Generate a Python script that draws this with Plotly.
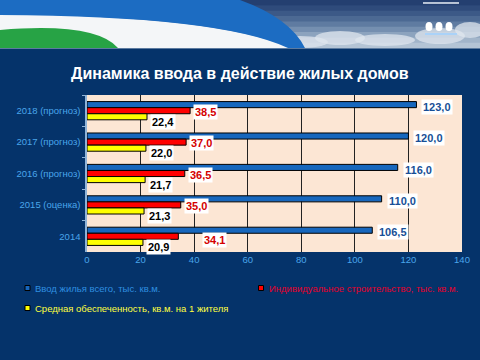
import plotly.graph_objects as go

# ---------------- data ----------------
categories = ["2018 (прогноз)", "2017 (прогноз)", "2016 (прогноз)", "2015 (оценка)", "2014"]
total_housing = [123.0, 120.0, 116.0, 110.0, 106.5]      # Ввод жилья всего, тыс. кв.м.
individual = [38.5, 37.0, 36.5, 35.0, 34.1]              # Индивидуальное строительство, тыс. кв.м.
avg_provision = [22.4, 22.0, 21.7, 21.3, 20.9]           # Средная обеспеченность, кв.м. на 1 жителя
series_names = ["Ввод жилья всего, тыс. кв.м.",
                "Индивидуальное строительство, тыс. кв.м.",
                "Средная обеспеченность, кв.м. на 1 жителя"]
x_ticks = [0, 20, 40, 60, 80, 100, 120, 140]
title_text = "Динамика ввода в действие жилых домов"

# ---------------- style ----------------
W, H = 480, 360
ML, MR, MT, MB = 87, 18, 95, 108
NAVY = "#05336a"
PLOT_BG = "#fce6d4"
TICK_COLOR = "#4aa6ea"
BAR_COLORS = ["#1767bd", "#ff0000", "#ffff00"]
LABEL_COLORS = ["#174f96", "#d40000", "#000000"]
LABEL_YSHIFT = [4, -1, -11]
LABEL_XSHIFT = [5, 3, 3]
FONT = "Liberation Sans, Arial, sans-serif"


def fmt(v):
    return f"{v:.1f}".replace(".", ",")


def px(x):
    return (x - ML) / (W - ML - MR)


def py(y):
    return (H - MB - y) / (H - MT - MB)


fig = go.Figure()
for name, vals, col in zip(series_names, [total_housing, individual, avg_provision], BAR_COLORS):
    fig.add_trace(go.Bar(
        y=categories, x=vals, name=name, orientation="h",
        marker=dict(color=col, line=dict(color="#000000", width=1)),
        showlegend=False, hoverinfo="x+y",
    ))

annotations = []
# data labels (y given as category index on the category axis)
for si, vals in enumerate([total_housing, individual, avg_provision]):
    for ci, (cat, v) in enumerate(zip(categories, vals)):
        xs, ys = LABEL_XSHIFT[si], LABEL_YSHIFT[si]
        if si == 1 and cat == "2014":
            xs, ys = 24, -4
        annotations.append(dict(
            x=v, y=ci, xref="x", yref="y", text=f"<b>{fmt(v)}</b>",
            showarrow=False, xanchor="left", yanchor="middle",
            xshift=xs, yshift=ys, bgcolor="#ffffff", borderpad=1,
            font=dict(family=FONT, size=11, color=LABEL_COLORS[si]),
        ))

# title
annotations.append(dict(
    x=px(240), y=py(73), xref="paper", yref="paper", text=f"<b>{title_text}</b>",
    showarrow=False, xanchor="center", yanchor="middle",
    font=dict(family=FONT, size=16, color="#ffffff"),
))

# legend (custom)
legend_pos = [(27.5, 288), (261, 288), (27.5, 308)]
legend_text_colors = ["#2f8fe0", "#e4002b", "#ffff40"]
shapes = []

# ---- banner: sky gradient ----
sky = ["#243f70", "#2f4b7b", "#3c5987", "#4c6993", "#5f7ba1", "#758fb0", "#8ca3be", "#a2b5ca", "#b4c4d5"]
band_h = 48 / len(sky)
for i, c in enumerate(sky):
    shapes.append(dict(type="rect", xref="paper", yref="paper", layer="below",
                       x0=px(0), x1=px(480), y0=py(i * band_h), y1=py((i + 1) * band_h + 0.5),
                       fillcolor=c, line=dict(width=0)))
# clouds
for cx, cy, rx, ry in [(300, 42, 28, 6), (340, 38, 25, 7), (385, 40, 30, 6), (440, 36, 25, 8), (470, 30, 15, 8)]:
    shapes.append(dict(type="circle", xref="paper", yref="paper", layer="below",
                       x0=px(cx - rx), x1=px(cx + rx), y0=py(cy - ry), y1=py(cy + ry),
                       fillcolor="#dfe6ee", opacity=0.75, line=dict(width=0)))


def path(points):
    out = []
    for cmd, pts in points:
        coords = " ".join(f"{px(a):.5f},{py(b):.5f}" for a, b in pts)
        out.append(f"{cmd} {coords}")
    return " ".join(out) + " Z"


# white band
shapes.append(dict(type="path", xref="paper", yref="paper", layer="below",
                   path=path([("M", [(0, 14)]), ("Q", [(220, 16), (290, 48)]), ("L", [(0, 48)])]),
                   fillcolor="#f4f6f8", line=dict(width=0)))
# blue swoosh
shapes.append(dict(type="path", xref="paper", yref="paper", layer="below",
                   path=path([("M", [(0, 0)]), ("L", [(240, 0)]), ("Q", [(290, 18), (305, 48)]),
                              ("L", [(288, 48)]), ("Q", [(220, 16), (0, 15)])]),
                   fillcolor="#1c6cc2", line=dict(width=0)))
# green
shapes.append(dict(type="path", xref="paper", yref="paper", layer="below",
                   path=path([("M", [(0, 30)]), ("Q", [(95, 22), (118, 48)]), ("L", [(0, 48)])]),
                   fillcolor="#27a345", line=dict(width=0)))
# logo shield
shapes.append(dict(type="path", xref="paper", yref="paper", layer="below",
                   path=path([("M", [(423, 3)]), ("L", [(459, 3), (459, 40), (443, 43), (441, 47), (439, 43), (423, 40)])]),
                   fillcolor="#1b6fd4", line=dict(color="#e8eef6", width=1)))
for sx in [429, 439, 449]:
    shapes.append(dict(type="circle", xref="paper", yref="paper", layer="below",
                       x0=px(sx - 3.5), x1=px(sx + 3.5), y0=py(22), y1=py(31),
                       fillcolor="#ffffff", line=dict(width=0)))
shapes.append(dict(type="line", xref="paper", yref="paper", layer="below",
                   x0=px(425), x1=px(457), y0=py(34), y1=py(34),
                   line=dict(color="#9fd0ff", width=1.5)))

for (lx, ly), name, bc, tc in zip(legend_pos, series_names, BAR_COLORS, legend_text_colors):
    shapes.append(dict(type="rect", xref="paper", yref="paper",
                       x0=px(lx - 2.5), x1=px(lx + 2.5), y0=py(ly - 2.5), y1=py(ly + 2.5),
                       fillcolor=bc, line=dict(color="#000000", width=1)))
    annotations.append(dict(
        x=px(lx + 5.5), y=py(ly), xref="paper", yref="paper", text=name,
        showarrow=False, xanchor="left", yanchor="middle",
        font=dict(family=FONT, size=9.5, color=tc),
    ))

fig.update_layout(
    width=W, height=H,
    margin=dict(l=ML, r=MR, t=MT, b=MB, pad=0, autoexpand=False),
    paper_bgcolor=NAVY, plot_bgcolor=PLOT_BG,
    barmode="group", bargap=0.42, bargroupgap=0,
    font=dict(family=FONT, size=9.5, color=TICK_COLOR),
    annotations=annotations, shapes=shapes,
    xaxis=dict(range=[0, 140], tickvals=x_ticks, showgrid=True, gridcolor="#222222", gridwidth=1,
               zeroline=False, showline=False, ticks="", tickfont=dict(color=TICK_COLOR, size=9.5),
               fixedrange=True),
    yaxis=dict(type="category", categoryorder="array", categoryarray=categories,
               range=[len(categories) - 0.5, -0.5], showgrid=False, showline=True,
               linecolor="#8fb3d8", linewidth=2,
               ticks="outside", tickson="boundaries", ticklen=3, tickcolor="#8fb3d8",
               tickfont=dict(color=TICK_COLOR, size=9.5), ticksuffix=" ", fixedrange=True),
)

fig.write_html("out.html", config={"displayModeBar": False},
               post_script="document.body.style.margin='0';document.body.style.overflow='hidden';")
